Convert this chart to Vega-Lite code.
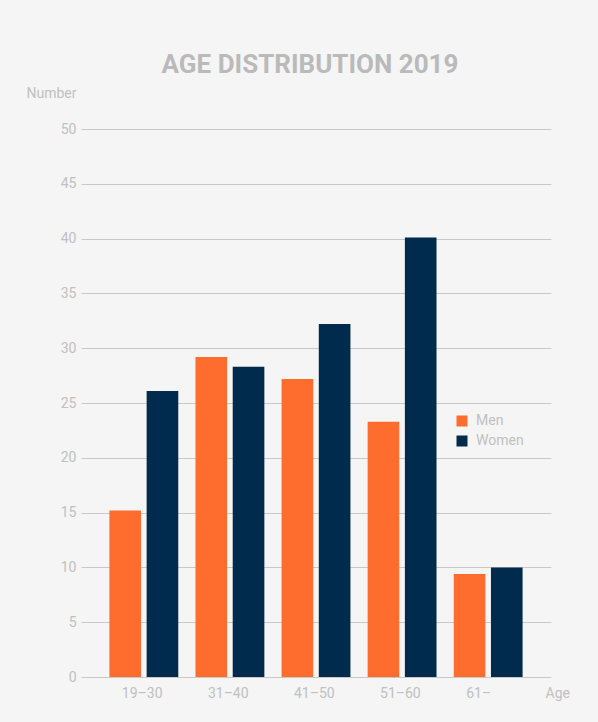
{
  "$schema": "https://vega.github.io/schema/vega-lite/v6.json",
  "width": 470,
  "height": 548,
  "autosize": {"type": "none"},
  "padding": {"left": 81, "top": 129, "right": 47, "bottom": 45},
  "background": "#f5f5f5",
  "title": {
    "text": "AGE DISTRIBUTION 2019",
    "font": "Roboto",
    "fontSize": 26,
    "fontWeight": "bold",
    "color": "#bababa",
    "anchor": "middle",
    "frame": "group",
    "baseline": "alphabetic",
    "offset": -13,
    "dx": -6
  },
  "data": {
    "values": [
      {"age": "19–30", "sex": "Men", "n": 15.2},
      {"age": "19–30", "sex": "Women", "n": 26.1},
      {"age": "31–40", "sex": "Men", "n": 29.2},
      {"age": "31–40", "sex": "Women", "n": 28.3},
      {"age": "41–50", "sex": "Men", "n": 27.2},
      {"age": "41–50", "sex": "Women", "n": 32.2},
      {"age": "51–60", "sex": "Men", "n": 23.3},
      {"age": "51–60", "sex": "Women", "n": 40.1},
      {"age": "61–", "sex": "Men", "n": 9.4},
      {"age": "61–", "sex": "Women", "n": 10.0}
    ]
  },
  "mark": {"type": "bar"},
  "encoding": {
    "x": {
      "field": "age",
      "type": "nominal",
      "sort": null,
      "scale": {"paddingInner": 0.2, "paddingOuter": 0.33},
      "axis": {
        "title": "Age",
        "titleX": 464,
        "titleY": 16,
        "titleAlign": "left",
        "titleBaseline": "middle",
        "titleAngle": 0,
        "titleFont": "Roboto",
        "titleFontSize": 14,
        "titleFontWeight": "normal",
        "titleColor": "#c0c0c0",
        "labelAngle": 0,
        "labelAlign": "left",
        "labelOffset": -22,
        "labelBaseline": "middle",
        "labelPadding": 16,
        "labelFont": "Roboto",
        "labelFontSize": 14,
        "labelColor": "#c0c0c0",
        "domain": false,
        "ticks": false,
        "grid": false
      }
    },
    "xOffset": {
      "field": "sex",
      "type": "nominal",
      "sort": ["Men", "Women"],
      "scale": {"paddingInner": 0.15}
    },
    "y": {
      "field": "n",
      "type": "quantitative",
      "stack": null,
      "scale": {"domain": [0, 50], "nice": false},
      "axis": {
        "title": "Number",
        "titleAngle": 0,
        "titleAlign": "left",
        "titleBaseline": "middle",
        "titleX": -55,
        "titleY": -36,
        "titleFont": "Roboto",
        "titleFontSize": 14,
        "titleFontWeight": "normal",
        "titleColor": "#c0c0c0",
        "values": [0, 5, 10, 15, 20, 25, 30, 35, 40, 45, 50],
        "labelPadding": 5,
        "labelFont": "Roboto",
        "labelFontSize": 14,
        "labelColor": "#c0c0c0",
        "domain": false,
        "ticks": false,
        "grid": true,
        "gridColor": "#c8c8c8",
        "gridWidth": 1
      }
    },
    "color": {
      "field": "sex",
      "type": "nominal",
      "sort": ["Men", "Women"],
      "scale": {"domain": ["Men", "Women"], "range": ["#fe6d2e", "#012b4c"]},
      "legend": {
        "title": null,
        "orient": "none",
        "legendX": 374,
        "legendY": 285,
        "padding": 0,
        "symbolType": "square",
        "symbolSize": 121,
        "symbolStrokeWidth": 0,
        "labelFont": "Roboto",
        "labelFontSize": 14,
        "labelColor": "#c0c0c0",
        "labelOffset": 7,
        "rowPadding": 6
      }
    }
  },
  "config": {
    "view": {"stroke": null}
  }
}
